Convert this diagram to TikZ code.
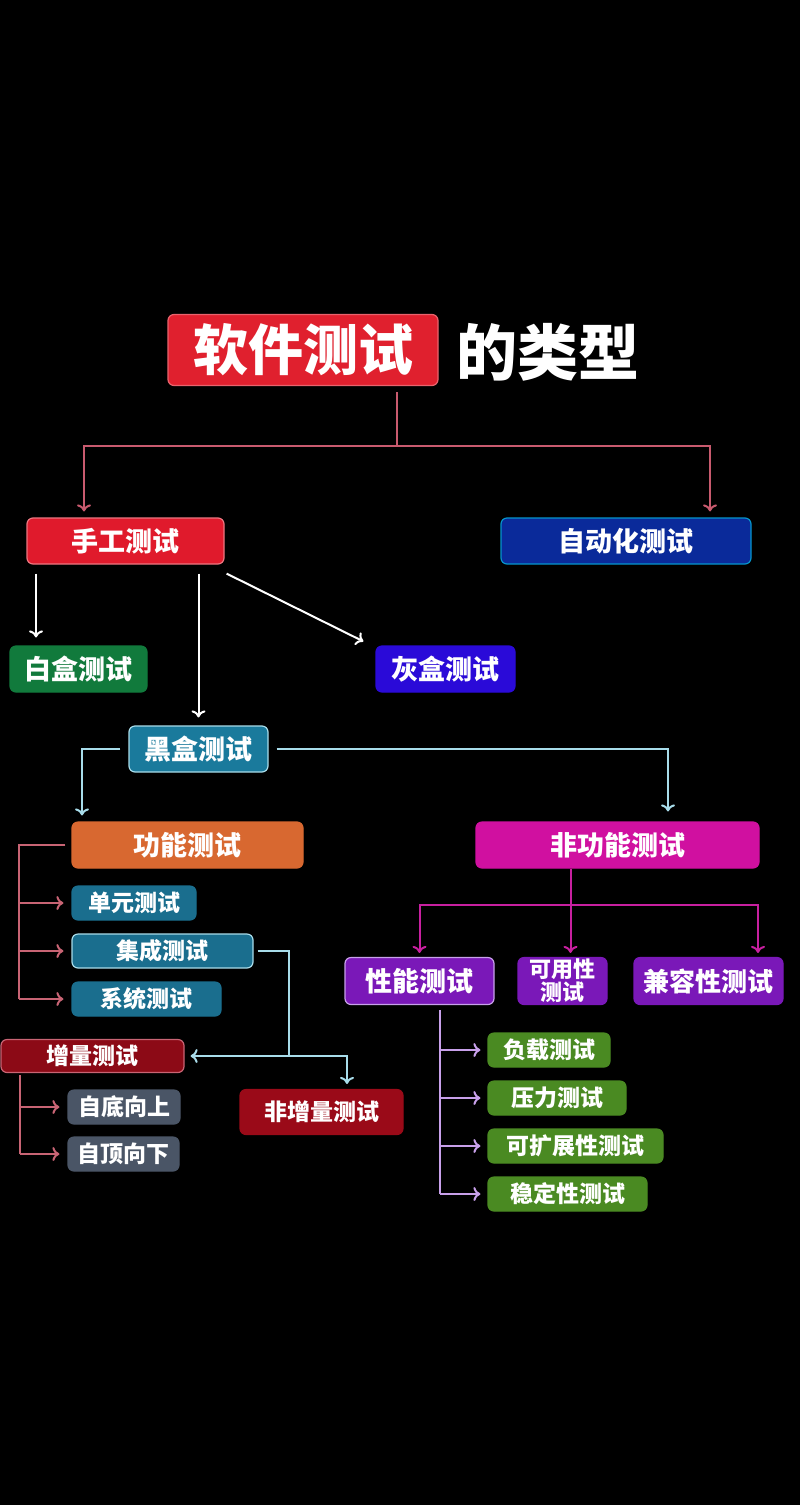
\documentclass[tikz,border=0pt]{standalone}
\usepackage{fontspec}
\newfontfamily\cjk{Noto Sans CJK SC}
\usetikzlibrary{calc,arrows.meta}
\definecolor{titlered}{HTML}{E0202E}
\definecolor{manred}{HTML}{E01A2C}
\definecolor{autoblue}{HTML}{0A2A9A}
\definecolor{whitegreen}{HTML}{117A3C}
\definecolor{greyblue}{HTML}{2A0AD8}
\definecolor{blackteal}{HTML}{1A7A9C}
\definecolor{funcorange}{HTML}{D86830}
\definecolor{nfmagenta}{HTML}{D010A0}
\definecolor{subteal}{HTML}{1A6E8E}
\definecolor{incrred}{HTML}{8C0A16}
\definecolor{nincrred}{HTML}{9A0A18}
\definecolor{dirgrey}{HTML}{4A5566}
\definecolor{perfpurple}{HTML}{7A18B8}
\definecolor{perfgreen}{HTML}{4A8A22}
\definecolor{redln}{HTML}{C85A6E}
\definecolor{cyanln}{HTML}{A8DCEA}
\definecolor{pinkln}{HTML}{C86474}
\definecolor{magln}{HTML}{C820A0}
\definecolor{lavln}{HTML}{C8A0EA}
\tikzset{
  box/.style={rounded corners=3pt,line width=0.6pt,text=white,inner sep=0pt,align=center},
  big/.style={box,minimum height=23pt,font=\cjk\bfseries\fontsize{13.5}{15}\selectfont},
  small/.style={box,minimum height=17pt,font=\cjk\bfseries\fontsize{11.5}{13}\selectfont},
  conn/.style={line width=1pt},
  >={To[length=3.5pt,width=7pt]},
}
\begin{document}
\begin{tikzpicture}[x=0.5pt,y=-0.5pt]
\fill[black] (0,0) rectangle (800,1505);
\node[box,fill=titlered,draw=titlered!70!white,minimum width=135pt,minimum height=35.5pt,
  font=\cjk\bfseries\fontsize{27.5}{30}\selectfont] (title) at (303,350) {软件测试};
\node[text=white,font=\cjk\bfseries\fontsize{30.5}{32}\selectfont,inner sep=0pt] (titlerest) at (548,352) {的类型};
\node[big,fill=manred,draw=manred!60!white,minimum width=98.5pt] (manual) at (125.5,541) {手工测试};
\node[big,fill=autoblue,draw=autoblue!50!cyan,minimum width=125pt] (auto) at (626,541) {自动化测试};
\node[big,fill=whitegreen,draw=whitegreen,minimum width=68.5pt] (white) at (78.5,669) {白盒测试};
\node[big,fill=greyblue,draw=greyblue,minimum width=69.5pt] (grey) at (445.5,669) {灰盒测试};
\node[big,fill=blackteal,draw=cyanln,minimum width=69.5pt] (black) at (198.5,749) {黑盒测试};
\node[big,fill=funcorange,draw=funcorange,minimum width=115.5pt] (func) at (187.5,845) {功能测试};
\node[big,fill=nfmagenta,draw=nfmagenta,minimum width=141.5pt] (nonfunc) at (617.5,845) {非功能测试};
\node[small,fill=subteal,draw=subteal,minimum width=62pt] (unit) at (134,903) {单元测试};
\node[small,fill=subteal,draw=cyanln,minimum width=90.5pt] (integ) at (162.5,951) {集成测试};
\node[small,fill=subteal,draw=subteal,minimum width=74.5pt] (system) at (146.5,999) {系统测试};
\node[small,fill=incrred,draw=pinkln,minimum width=91.5pt,minimum height=16.5pt] (incr) at (92.5,1056) {增量测试};
\node[small,fill=nincrred,draw=nincrred,minimum width=81.5pt,minimum height=22.5pt] (nonincr) at (321.5,1112) {非增量测试};
\node[small,fill=dirgrey,draw=dirgrey,minimum width=56pt] (bottomup) at (124,1107) {自底向上};
\node[small,fill=dirgrey,draw=dirgrey,minimum width=55.5pt] (topdown) at (123.5,1154) {自顶向下};
\node[big,fill=perfpurple,draw=lavln,minimum width=74.5pt,minimum height=23.5pt] (perf) at (419.5,981) {性能测试};
\node[box,fill=perfpurple,draw=perfpurple,minimum width=44.5pt,minimum height=23.5pt,
  font=\cjk\bfseries\fontsize{11}{11.5}\selectfont] (usab) at (562.5,981) {可用性\\测试};
\node[big,fill=perfpurple,draw=perfpurple,minimum width=74.5pt,minimum height=23.5pt,
  font=\cjk\bfseries\fontsize{13}{15}\selectfont] (compat) at (708.5,981) {兼容性测试};
\node[small,fill=perfgreen,draw=perfgreen,minimum width=61pt] (load) at (549,1050) {负载测试};
\node[small,fill=perfgreen,draw=perfgreen,minimum width=69pt] (stress) at (557,1098) {压力测试};
\node[small,fill=perfgreen,draw=perfgreen,minimum width=87.5pt] (scal) at (575.5,1146) {可扩展性测试};
\node[small,fill=perfgreen,draw=perfgreen,minimum width=79.5pt] (stab) at (567.5,1194) {稳定性测试};
\draw[conn,redln] ([xshift=47pt,yshift=-3pt]title.south) -- ++(0,54) coordinate (tsplit);
\draw[conn,redln,->] (tsplit) -| ([xshift=-20.75pt,yshift=3pt]manual.north);
\draw[conn,redln,->] (tsplit) -| ([xshift=42pt,yshift=3pt]auto.north);
\draw[conn,white,->] ([xshift=-44.75pt,yshift=-4.5pt]manual.south) coordinate (mw) -- ([yshift=4pt]mw |- white.north);
\draw[conn,white,->,shorten <=4.5pt,shorten >=4pt] (manual.south -| black.north) -- (black.north);
\draw[conn,white,->] ([xshift=1pt,yshift=-4.5pt]manual.south east) -- ([xshift=-6pt,yshift=2pt]grey.north west);
\draw[conn,cyanln,->] ([xshift=-4pt]black.west) -| ([xshift=-52.75pt,yshift=3pt]func.north);
\draw[conn,cyanln,->] ([xshift=4pt]black.east) -| ([xshift=25.25pt,yshift=5pt]nonfunc.north);
\draw[conn,pinkln] ([xshift=-3pt]func.west) -- ++(-46,0) coordinate (fspine) -- (fspine |- system.west);
\foreach \n in {unit,integ,system}
  \draw[conn,pinkln,->] (fspine |- \n.west) -- ([xshift=-4pt]\n.west);
\draw[conn,cyanln] ([xshift=2pt]integ.east) -- ++(31,0) coordinate (isplit) -- (isplit |- incr.east) coordinate (imid);
\draw[conn,cyanln,->] (imid) -- ([xshift=3pt]incr.east);
\draw[conn,cyanln,->] (imid) -| ([xshift=12.75pt,yshift=2.5pt]nonincr.north);
\draw[conn,pinkln] ([xshift=-36.25pt,yshift=-1pt]incr.south) coordinate (ib) -- (ib |- topdown.west);
\foreach \n in {bottomup,topdown}
  \draw[conn,pinkln,->] (ib |- \n.west) -- ([xshift=-4pt]\n.west);
\draw[conn,magln] ([xshift=4pt]usab.north |- nonfunc.south) -- ++(0,36) coordinate (nsplit);
\draw[conn,magln,->] (nsplit) -- ([xshift=4pt,yshift=2pt]usab.north);
\draw[conn,magln,->] (nsplit) -| ([yshift=2pt]perf.north);
\draw[conn,magln,->] (nsplit) -| ([xshift=24.75pt,yshift=2pt]compat.north);
\draw[conn,lavln] ([xshift=10.25pt,yshift=-2.5pt]perf.south) coordinate (pb) -- (pb |- stab.west);
\foreach \n in {load,stress,scal,stab}
  \draw[conn,lavln,->] (pb |- \n.west) -- ([xshift=-3.5pt]\n.west);
\end{tikzpicture}
\end{document}
